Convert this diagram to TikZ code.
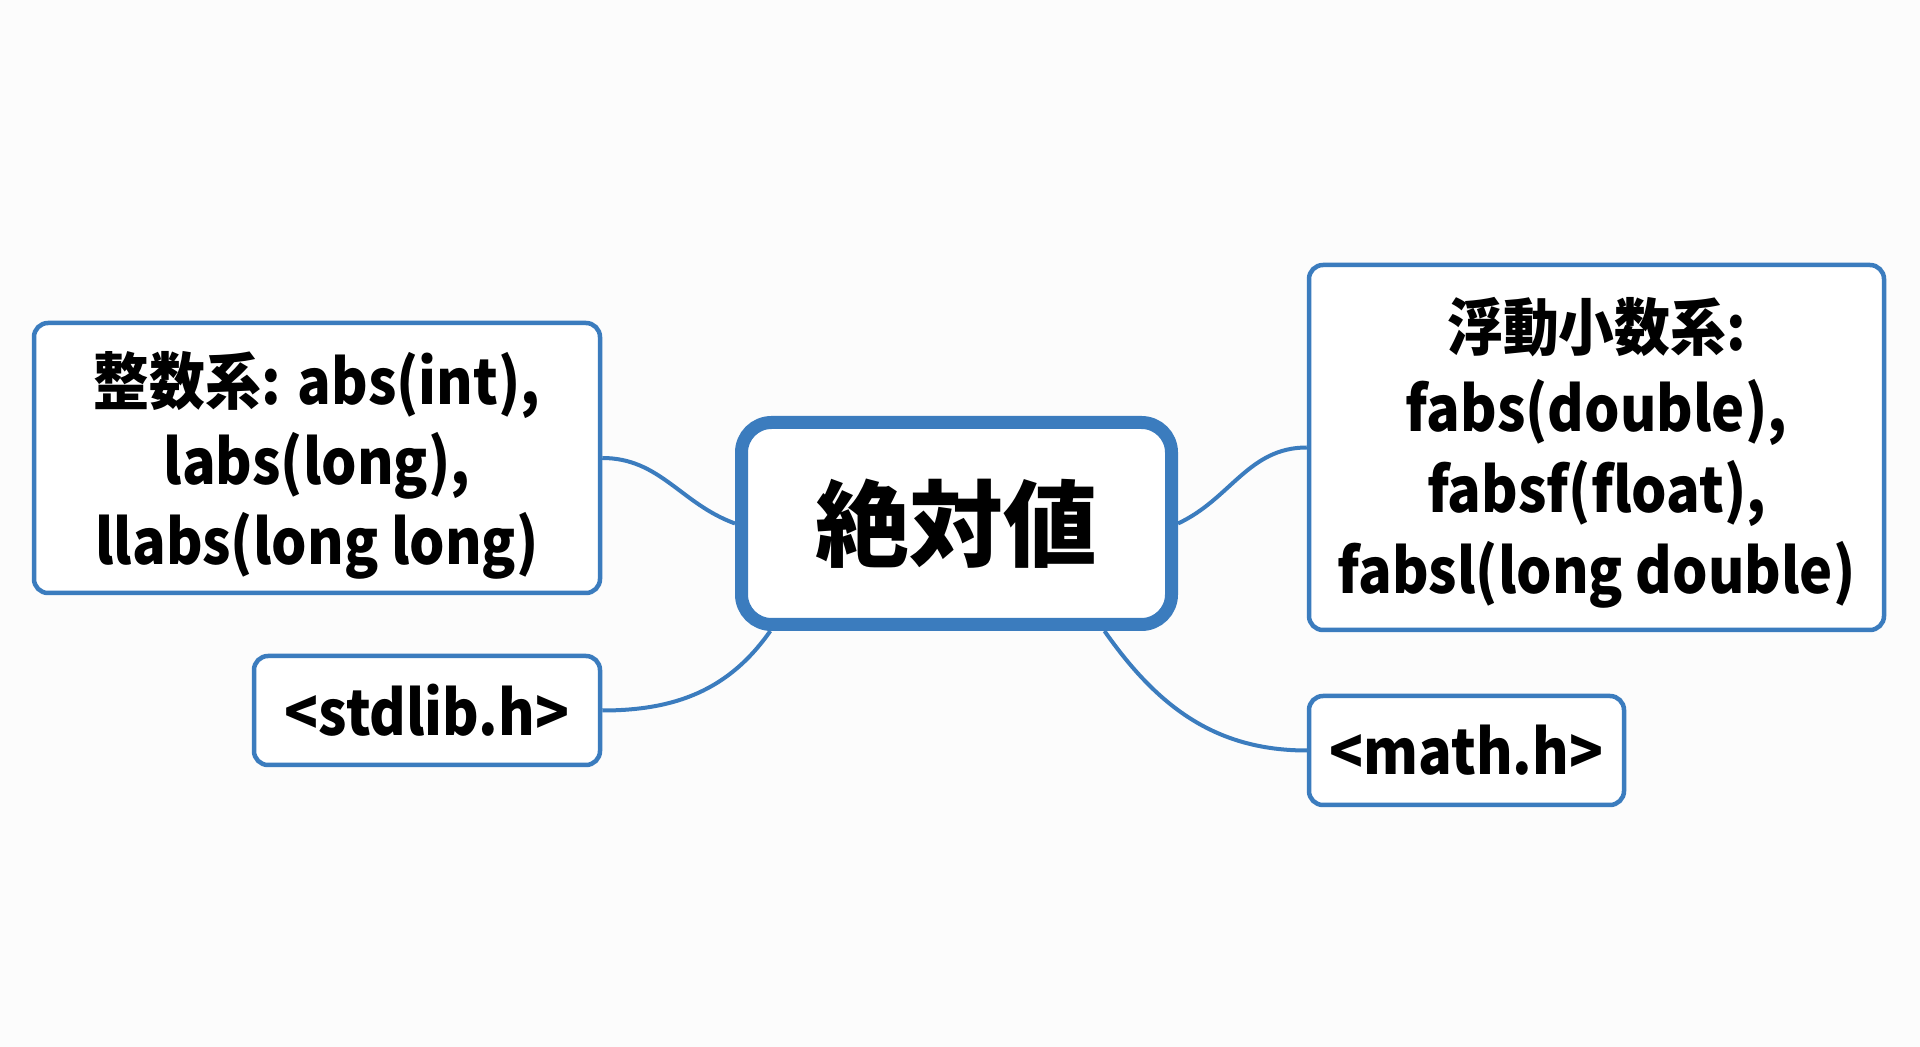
\documentclass[tikz,border=0pt]{standalone}
\usepackage{fontspec}
\setmainfont{Noto Sans CJK JP}
\newfontfamily\boxfont{Noto Sans CJK JP}[FakeStretch=0.9]
\usetikzlibrary{positioning}
\definecolor{boxblue}{RGB}{59,124,190}
\definecolor{bgcol}{RGB}{252,252,252}
\tikzset{
  box/.style={draw=boxblue, line width=4.5pt, rounded corners=14pt, fill=white,
    align=center, inner sep=0pt, font=\boxfont\bfseries\fontsize{62}{80}\selectfont},
  mainbox/.style={draw=boxblue, line width=13pt, rounded corners=30pt, fill=white,
    align=center, inner sep=0pt, font=\bfseries\fontsize{94}{100}\selectfont},
  link/.style={draw=boxblue, line width=4pt}
}
\begin{document}
\begin{tikzpicture}[x=1pt,y=1pt]
\fill[bgcol] (0,0) rectangle (1920,1047);
\useasboundingbox (0,0) rectangle (1920,1047);
\node[mainbox, minimum width=430pt, minimum height=202pt] (C) at (956.5,523.5) {絶対値};
\node[box, minimum width=566pt, minimum height=270pt] (L1) at (317,589) {\raisebox{-11pt}[\height][\depth]{\begin{tabular}{@{}c@{}}整数系: abs(int),\\labs(long),\\llabs(long long)\end{tabular}}};
\node[box, minimum width=346pt, minimum height=109pt] (L2) at (427,336.5) {<stdlib.h>};
\node[box, minimum width=575pt, minimum height=365pt] (R1) at (1596.5,599.5) {\raisebox{-8pt}[\height][\depth]{\fontsize{62}{81}\selectfont\begin{tabular}{@{}c@{}}浮動小数系:\\fabs(double),\\fabsf(float),\\fabsl(long double)\end{tabular}}};
\node[box, minimum width=315pt, minimum height=109pt] (R2) at (1466.5,296.5) {<math.h>};
\draw[link] (L1.east) to[out=0, in=160] (C.west);
\draw[link] (L2.east) to[out=0, in=235] (C.210);
\draw[link] (C.east) to[out=25, in=180] (R1.west);
\draw[link] (C.-36) to[out=-55, in=180] (R2.west);
\end{tikzpicture}
\end{document}
